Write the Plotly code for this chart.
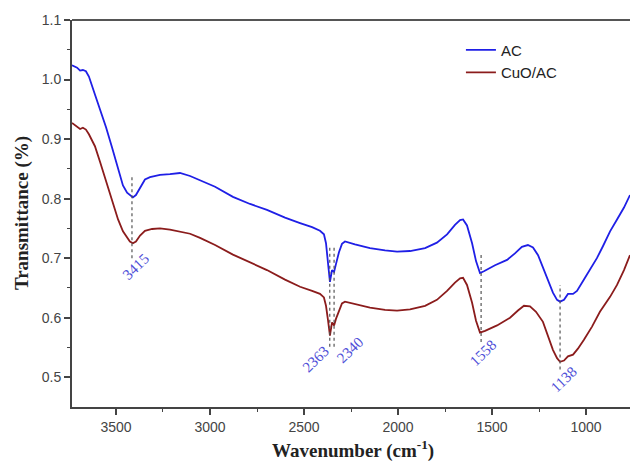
import plotly.graph_objects as go

# FTIR spectra: wavenumber (cm^-1) and transmittance
wn = [3734, 3707, 3691, 3676, 3660, 3644, 3612, 3585, 3553, 3521, 3489, 3463,
      3441, 3426, 3410, 3394, 3372, 3346, 3319, 3266, 3213, 3160, 3106, 3053,
      2973, 2878, 2787, 2697, 2601, 2521, 2457, 2415, 2394, 2383, 2372, 2362,
      2351, 2340, 2330, 2314, 2298, 2282, 2229, 2149, 2069, 2005, 1936, 1856,
      1793, 1739, 1697, 1670, 1654, 1633, 1606, 1585, 1564, 1543, 1484, 1420,
      1378, 1341, 1309, 1282, 1255, 1229, 1202, 1176, 1154, 1138, 1117, 1096,
      1069, 1048, 1011, 979, 942, 910, 872, 835, 798, 766]
ac = [1.024, 1.020, 1.015, 1.016, 1.014, 1.005, 0.975, 0.950, 0.920, 0.886, 0.852, 0.822,
      0.810, 0.806, 0.802, 0.806, 0.818, 0.832, 0.836, 0.840, 0.841, 0.843, 0.838, 0.831,
      0.820, 0.803, 0.791, 0.781, 0.768, 0.759, 0.752, 0.746, 0.740, 0.725, 0.695, 0.660,
      0.680, 0.677, 0.690, 0.710, 0.724, 0.728, 0.723, 0.717, 0.713, 0.711, 0.712, 0.717,
      0.726, 0.740, 0.756, 0.764, 0.765, 0.755, 0.725, 0.695, 0.675, 0.678, 0.688, 0.697,
      0.708, 0.719, 0.722, 0.718, 0.705, 0.685, 0.665, 0.642, 0.630, 0.627, 0.630, 0.640,
      0.640, 0.645, 0.664, 0.680, 0.700, 0.720, 0.745, 0.765, 0.785, 0.806]

wn_cuo = [3734, 3707, 3691, 3676, 3660, 3644, 3612, 3585, 3553, 3521, 3489, 3463,
          3441, 3426, 3410, 3394, 3372, 3346, 3308, 3266, 3213, 3160, 3106, 3053,
          2973, 2878, 2787, 2697, 2601, 2521, 2457, 2415, 2394, 2383, 2372, 2362,
          2351, 2340, 2330, 2314, 2298, 2282, 2229, 2149, 2069, 2005, 1936, 1856,
          1793, 1739, 1697, 1670, 1654, 1633, 1606, 1585, 1564, 1537, 1473, 1404,
          1362, 1330, 1298, 1266, 1229, 1202, 1176, 1154, 1138, 1117, 1096, 1069,
          1043, 1011, 968, 926, 872, 835, 798, 766]
cuo_ac = [0.927, 0.921, 0.917, 0.919, 0.916, 0.908, 0.888, 0.862, 0.830, 0.795, 0.765, 0.745,
          0.735, 0.728, 0.725, 0.728, 0.738, 0.746, 0.749, 0.750, 0.748, 0.745, 0.741, 0.734,
          0.722, 0.706, 0.693, 0.680, 0.664, 0.652, 0.645, 0.640, 0.634, 0.620, 0.595, 0.570,
          0.592, 0.587, 0.598, 0.612, 0.624, 0.627, 0.623, 0.617, 0.613, 0.612, 0.614, 0.620,
          0.630, 0.645, 0.659, 0.666, 0.667, 0.655, 0.625, 0.595, 0.575, 0.578, 0.587, 0.600,
          0.612, 0.620, 0.619, 0.610, 0.593, 0.570, 0.546, 0.532, 0.526, 0.528, 0.535, 0.538,
          0.548, 0.563, 0.585, 0.610, 0.635, 0.655, 0.680, 0.705]

# Marked absorption bands
peaks = [3415, 2363, 2340, 1558, 1138]
peak_top = [0.839, 0.719, 0.719, 0.710, 0.655]
peak_bottom = [0.700, 0.551, 0.551, 0.559, 0.513]
label_pos = [(3396, 0.685), (2436, 0.530), (2255, 0.546), (1548, 0.541), (1122, 0.496)]

fig = go.Figure()
fig.add_trace(go.Scatter(x=wn, y=ac, mode="lines", name="AC",
                         line=dict(color="#1f1fe6", width=1.8)))
fig.add_trace(go.Scatter(x=wn_cuo, y=cuo_ac, mode="lines", name="CuO/AC",
                         line=dict(color="#8b1c1c", width=1.8)))

for p, top, bot, (lx, ly) in zip(peaks, peak_top, peak_bottom, label_pos):
    fig.add_shape(type="line", x0=p, x1=p, y0=bot, y1=top, xref="x", yref="y",
                  line=dict(color="#555555", width=1.2, dash="dot"))
    fig.add_annotation(x=lx, y=ly, xref="x", yref="y", text=str(p), showarrow=False,
                       textangle=-44, xanchor="center", yanchor="middle",
                       font=dict(family="Liberation Serif", size=15, color="#5050d8"))

# top border only (the right edge is open)
fig.add_shape(type="line", x0=0, x1=1, y0=1, y1=1, xref="paper", yref="paper",
              line=dict(color="#555555", width=2))

axis_font = dict(family="Liberation Sans", size=14, color="#444444")
fig.update_xaxes(range=[3734, 766], showgrid=False, zeroline=False,
                 showline=True, linecolor="#444444", linewidth=2,
                 ticks="outside", ticklen=6, tickwidth=1.5, tickcolor="#444444",
                 tickvals=[3500, 3000, 2500, 2000, 1500, 1000],
                 minor=dict(ticks="outside", ticklen=3, tickwidth=1.2, tickcolor="#444444",
                            tickvals=[3250, 2750, 2250, 1750, 1250]),
                 tickfont=axis_font)
fig.update_yaxes(range=[0.45, 1.1], showgrid=False, zeroline=False,
                 showline=True, linecolor="#444444", linewidth=2,
                 ticks="outside", ticklen=6, tickwidth=1.5, tickcolor="#444444",
                 tickvals=[0.5, 0.6, 0.7, 0.8, 0.9, 1.0, 1.1],
                 ticktext=["0.5", "0.6", "0.7", "0.8", "0.9", "1.0", "1.1"],
                 minor=dict(ticks="outside", ticklen=3, tickwidth=1.2, tickcolor="#444444",
                            tickvals=[0.55, 0.65, 0.75, 0.85, 0.95, 1.05]),
                 tickfont=axis_font)

title_font = dict(family="Liberation Serif", size=19, color="#222222")
fig.add_annotation(text="<b>Wavenumber (cm<sup>-1</sup>)</b>", xref="paper", yref="paper",
                   x=0.504, y=-0.111, xanchor="center", yanchor="middle",
                   showarrow=False, font=title_font)
fig.add_annotation(text="<b>Transmittance (%)</b>", xref="paper", yref="paper",
                   x=-0.0896, y=0.501, xanchor="center", yanchor="middle",
                   showarrow=False, textangle=-90, font=title_font)

fig.update_layout(
    width=630, height=461,
    margin=dict(l=72, r=0, t=20, b=54),
    paper_bgcolor="white", plot_bgcolor="white",
    showlegend=True,
    legend=dict(x=0.697, y=0.965, xanchor="left", yanchor="top",
                bgcolor="rgba(0,0,0,0)", tracegroupgap=0,
                font=dict(family="Liberation Sans", size=15, color="#222222")),
)

fig.write_html("out.html")
